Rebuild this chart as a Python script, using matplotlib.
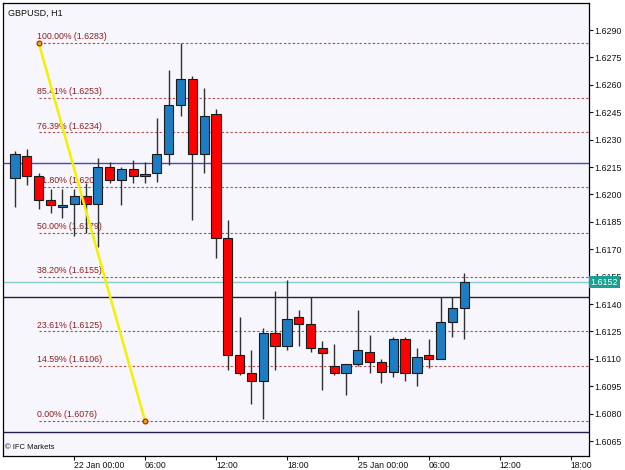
"""GBPUSD H1 candlestick chart with Fibonacci retracement levels."""
import matplotlib
matplotlib.use('Agg')
import matplotlib.pyplot as plt
import numpy as np

plt.rcParams['font.family'] = ['Liberation Sans', 'DejaVu Sans']

# ── Data (hourly bars, 21 Jan 19:00 → 25 Jan 09:00) ─────────────────────────
opens  = [1.6209, 1.6221, 1.6210, 1.6197, 1.6193, 1.6195, 1.6199, 1.6195,
          1.6215, 1.6208, 1.6214, 1.6210, 1.6212, 1.6222, 1.6249, 1.6263,
          1.6222, 1.6244, 1.6176, 1.6112, 1.6102, 1.6098, 1.6124, 1.6117,
          1.6133, 1.6129, 1.6116, 1.6106, 1.6102, 1.6107, 1.6114, 1.6108,
          1.6103, 1.6121, 1.6102, 1.6112, 1.6110, 1.6130, 1.6138]
highs  = [1.6224, 1.6225, 1.6212, 1.6203, 1.6203, 1.6203, 1.6206, 1.6220,
          1.6218, 1.6215, 1.6219, 1.6218, 1.6242, 1.6268, 1.6283, 1.6265,
          1.6258, 1.6247, 1.6186, 1.6133, 1.6115, 1.6127, 1.6147, 1.6153,
          1.6137, 1.6144, 1.6120, 1.6118, 1.6107, 1.6137, 1.6123, 1.6110,
          1.6122, 1.6122, 1.6116, 1.6121, 1.6144, 1.6144, 1.6157]
lows   = [1.6193, 1.6205, 1.6192, 1.6190, 1.6187, 1.6177, 1.6179, 1.6171,
          1.6206, 1.6194, 1.6206, 1.6206, 1.6207, 1.6216, 1.6243, 1.6186,
          1.6212, 1.6165, 1.6104, 1.6101, 1.6085, 1.6077, 1.6104, 1.6115,
          1.6117, 1.6114, 1.6093, 1.6101, 1.6090, 1.6106, 1.6102, 1.6097,
          1.6100, 1.6098, 1.6095, 1.6105, 1.6110, 1.6122, 1.6121]
closes = [1.6222, 1.6210, 1.6197, 1.6194, 1.6194, 1.6199, 1.6195, 1.6215,
          1.6208, 1.6214, 1.6210, 1.6211, 1.6222, 1.6249, 1.6263, 1.6222,
          1.6243, 1.6176, 1.6112, 1.6102, 1.6098, 1.6124, 1.6117, 1.6132,
          1.6129, 1.6116, 1.6113, 1.6102, 1.6107, 1.6115, 1.6108, 1.6103,
          1.6121, 1.6102, 1.6111, 1.6110, 1.6130, 1.6138, 1.6152]

tick_idx    = [5, 11, 17, 23, 29, 35, 41, 47]
tick_labels = ["22 Jan 00:00", "06:00", "12:00", "18:00",
               "25 Jan 00:00", "06:00", "12:00", "18:00"]

y_ticks = [1.6065, 1.6080, 1.6095, 1.6110, 1.6125, 1.6140, 1.6155, 1.6170,
           1.6185, 1.6200, 1.6215, 1.6230, 1.6245, 1.6260, 1.6275, 1.6290]

fib_pct    = ["100.00%", "85.41%", "76.39%", "61.80%", "50.00%",
              "38.20%", "23.61%", "14.59%", "0.00%"]
fib_price  = [1.6283, 1.6253, 1.6234, 1.6204, 1.6179,
              1.6155, 1.6125, 1.6106, 1.6076]
fib_anchor_idx   = [2, 11]
fib_anchor_price = [1.6283, 1.6076]

blue_level  = 1.6217
navy_levels = [1.6144, 1.6070]
last_price  = 1.6152

# ── Colours ─────────────────────────────────────────────────────────────────
BULL   = "#1c7cc4"
BEAR   = "#ff0000"
WICK   = "#303030"
FIB    = "#b04848"
FIB_TX = "#8c2020"
BG     = "#f6f6fc"

Y_LO, Y_HI = 1.60568, 1.63048

fig = plt.figure(figsize=(6.25, 4.70), dpi=100)
fig.patch.set_facecolor("white")
ax = fig.add_axes([3 / 625, 14 / 470, 586 / 625, 453 / 470])
ax.set_facecolor(BG)

o = np.array(opens); h = np.array(highs); l = np.array(lows); c = np.array(closes)
idx = np.arange(len(o))
up = c >= o

# Horizontal reference lines
ax.axhline(blue_level, color="#4646c8", lw=1.0, zorder=1)
for lv in navy_levels:
    ax.axhline(lv, color="#20204a", lw=1.0, zorder=1)
ax.axhline(last_price, color="#86cccc", lw=1.0, zorder=1)

# Fibonacci levels
for pct, pr in zip(fib_pct, fib_price):
    ax.plot([fib_anchor_idx[0], 60], [pr, pr], color=FIB, lw=0.8,
            linestyle=(0, (2, 2)), zorder=1)
    ax.text(fib_anchor_idx[0] - 0.15, pr + 0.00009, f"{pct} ({pr:.4f})",
            fontsize=6.3, color=FIB_TX, ha="left", va="bottom", zorder=2)

# Candles
ax.vlines(idx, l, h, color=WICK, lw=1.0, zorder=3)
body_bot = np.minimum(o, c)
body_h = np.maximum(np.abs(c - o), 0.00003)
ax.bar(idx, body_h, bottom=body_bot, width=0.78,
       color=np.where(up, BULL, BEAR), edgecolor="#1a1a1a", lw=0.8, zorder=4)

# Fibonacci trend line
ax.plot(fib_anchor_idx, fib_anchor_price, color="#f4f000", lw=1.8, zorder=5)
ax.plot(fib_anchor_idx, fib_anchor_price, "o", ms=3.5, mfc="#f0a020",
        mec="#b02000", mew=0.8, zorder=6)

# Axes
ax.set_xlim(-1.02, 48.56)
ax.set_ylim(Y_LO, Y_HI)
ax.yaxis.tick_right()
ax.set_yticks(y_ticks)
ax.set_yticklabels([f"{v:.4f}" for v in y_ticks])
ax.set_xticks(tick_idx)
ax.set_xticklabels(tick_labels, ha="left")
ax.tick_params(axis="both", labelsize=6.4, length=3, width=0.8,
               colors="#111111", pad=1)
ax.tick_params(axis="x", labelsize=6.2, pad=0.5)
for s in ax.spines.values():
    s.set_color("#000000")
    s.set_linewidth(0.9)

# Last price tag
ax.text(1.003, (last_price - Y_LO) / (Y_HI - Y_LO), f"{last_price:.4f}",
        transform=ax.transAxes, ha="left", va="center", fontsize=6.4,
        color="white", zorder=10, clip_on=False,
        bbox=dict(boxstyle="square,pad=0.15", fc="#1aa090", ec="none"))

ax.text(0.008, 0.988, "GBPUSD, H1", transform=ax.transAxes,
        ha="left", va="top", fontsize=6.5, color="#111111")
ax.text(0.004, 0.012, "\u00a9 IFC Markets", transform=ax.transAxes,
        ha="left", va="bottom", fontsize=5.5, color="#111111")

fig.savefig("out.png", dpi=100, facecolor="white")
